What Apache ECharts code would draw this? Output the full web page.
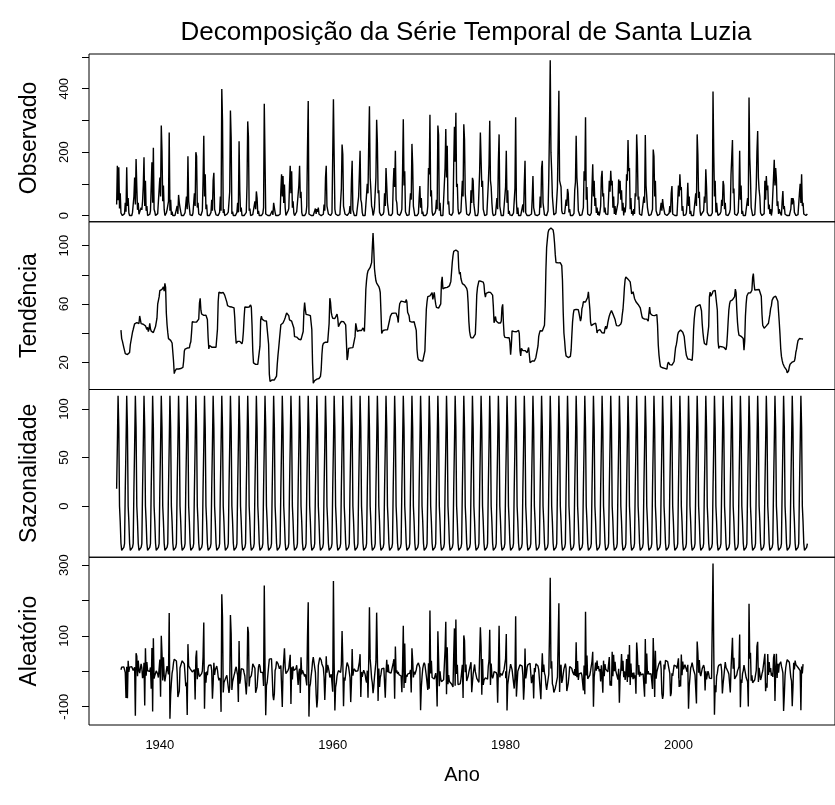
<!DOCTYPE html>
<html>
<head>
<meta charset="utf-8">
<script src="https://cdn.jsdelivr.net/npm/echarts@6/dist/echarts.min.js"></script>
<style>
  html, body { margin: 0; padding: 0; background: #ffffff; }
  #chart { width: 835px; height: 805px; }
</style>
</head>
<body>
<div id="chart"></div>
<script>
// Monthly rainfall series, Santa Luzia, January 1935 - December 2014 (one row per year, Jan..Dec)
const startYear = 1935;

const rain1935to1944 = [
  35, 157, 48, 152, 22, 70, 8, 2, 0, 4, 0, 6,
  40, 12, 152, 30, 55, 8, 0, 0, 0, 0, 9, 6,
  60, 120, 35, 178, 90, 18, 40, 4, 0, 0, 25, 18,
  45, 95, 184, 30, 110, 15, 30, 0, 0, 0, 4, 15,
  10, 168, 40, 214, 20, 12, 0, 0, 0, 6, 0, 10,
  120, 60, 284, 200, 45, 95, 20, 0, 0, 8, 18, 14,
  45, 262, 15, 50, 2, 12, 0, 0, 0, 0, 4, 6,
  30, 5, 65, 40, 25, 12, 0, 0, 0, 0, 6, 9,
  5, 60, 20, 187, 45, 25, 2, 0, 0, 0, 8, 8,
  70, 30, 200, 187, 25, 40, 5, 0, 0, 0, 4, 15
];
const rain1945to1954 = [
  110, 252, 60, 130, 20, 35, 0, 2, 0, 0, 5, 10,
  50, 15, 110, 135, 20, 18, 2, 0, 0, 0, 0, 10,
  60, 15, 399, 299, 8, 20, 0, 0, 0, 4, 0, 11,
  15, 75, 331, 245, 5, 12, 0, 0, 0, 0, 3, 10,
  40, 10, 234, 80, 12, 25, 0, 0, 0, 0, 2, 5,
  10, 95, 297, 248, 15, 22, 0, 0, 0, 3, 0, 6,
  45, 20, 76, 55, 5, 15, 0, 0, 0, 0, 5, 7,
  25, 353, 180, 5, 8, 0, 0, 0, 0, 0, 0, 5,
  15, 2, 40, 25, 10, 0, 0, 0, 0, 0, 0, 4,
  80, 130, 60, 125, 40, 98, 25, 0, 0, 5, 15, 22
];
const rain1955to1964 = [
  95, 157, 70, 140, 25, 45, 8, 0, 0, 0, 12, 12,
  15, 95, 157, 55, 75, 10, 0, 0, 0, 0, 5, 8,
  30, 214, 361, 5, 8, 0, 0, 0, 0, 0, 0, 6,
  22, 5, 20, 12, 25, 4, 10, 0, 0, 0, 6, 4,
  35, 15, 120, 157, 30, 35, 5, 0, 0, 0, 3, 8,
  10, 367, 187, 20, 5, 0, 2, 0, 0, 0, 3, 6,
  85, 224, 193, 30, 30, 5, 0, 0, 0, 0, 0, 9,
  30, 5, 110, 173, 18, 15, 0, 0, 0, 0, 4, 5,
  60, 130, 204, 50, 40, 10, 0, 0, 0, 0, 4, 6,
  100, 70, 227, 345, 120, 80, 30, 20, 0, 8, 25, 25
];
const rain1965to1974 = [
  120, 302, 230, 70, 80, 10, 12, 0, 0, 0, 4, 12,
  70, 30, 150, 155, 40, 45, 2, 0, 0, 0, 5, 7,
  95, 150, 90, 204, 50, 40, 5, 0, 0, 0, 4, 10,
  20, 140, 304, 95, 140, 12, 15, 0, 0, 0, 2, 4,
  70, 50, 226, 160, 30, 30, 0, 0, 0, 0, 3, 7,
  55, 93, 25, 55, 5, 12, 0, 0, 0, 0, 0, 7,
  30, 150, 130, 318, 60, 80, 12, 0, 0, 0, 8, 16,
  50, 20, 284, 254, 15, 40, 0, 0, 0, 0, 3, 6,
  150, 273, 120, 220, 35, 45, 5, 0, 0, 0, 6, 10,
  160, 280, 170, 324, 90, 100, 20, 4, 0, 0, 12, 16
];
const rain1975to1984 = [
  110, 60, 288, 240, 70, 75, 5, 0, 0, 0, 6, 10,
  80, 40, 119, 110, 35, 40, 0, 4, 0, 0, 10, 6,
  140, 262, 259, 90, 110, 20, 10, 0, 0, 0, 3, 6,
  100, 160, 299, 110, 90, 40, 8, 0, 0, 0, 3, 6,
  55, 20, 170, 256, 30, 25, 0, 0, 0, 0, 2, 6,
  90, 204, 40, 80, 5, 15, 2, 0, 0, 0, 0, 8,
  10, 85, 310, 50, 5, 25, 0, 0, 0, 0, 2, 5,
  35, 10, 100, 173, 8, 5, 0, 0, 0, 0, 0, 5,
  5, 55, 125, 25, 30, 2, 6, 0, 0, 0, 0, 4,
  60, 25, 150, 173, 40, 45, 2, 0, 0, 0, 6, 15
];
const rain1985to1994 = [
  120, 281, 490, 200, 140, 60, 30, 2, 0, 0, 8, 13,
  90, 234, 394, 110, 100, 90, 15, 6, 0, 0, 6, 11,
  50, 30, 84, 70, 10, 20, 0, 0, 0, 0, 5, 7,
  80, 105, 252, 120, 85, 15, 8, 0, 0, 0, 2, 5,
  25, 140, 110, 310, 50, 90, 5, 0, 0, 0, 6, 8,
  90, 162, 60, 110, 30, 55, 8, 25, 2, 12, 0, 10,
  30, 120, 141, 60, 70, 10, 25, 5, 0, 8, 3, 8,
  110, 75, 141, 95, 110, 25, 60, 5, 30, 2, 0, 7,
  40, 114, 70, 110, 50, 80, 15, 40, 0, 25, 10, 34,
  130, 110, 238, 140, 150, 20, 55, 5, 15, 0, 20, 5
];
const rain1995to2004 = [
  70, 60, 256, 190, 50, 60, 5, 10, 0, 0, 2, 5,
  60, 40, 254, 95, 100, 25, 10, 0, 0, 5, 3, 8,
  20, 208, 187, 60, 110, 15, 12, 0, 0, 0, 4, 8,
  40, 15, 52, 30, 35, 5, 8, 0, 0, 0, 0, 7,
  30, 10, 70, 93, 5, 4, 0, 0, 0, 0, 0, 4,
  95, 60, 130, 80, 90, 15, 30, 0, 0, 5, 2, 9,
  40, 103, 30, 60, 5, 15, 0, 0, 0, 0, 5, 6,
  70, 30, 256, 191, 55, 75, 15, 0, 0, 8, 5, 15,
  60, 40, 146, 90, 10, 15, 0, 0, 0, 0, 3, 8,
  391, 198, 60, 110, 10, 40, 12, 0, 0, 0, 6, 13
];
const rain2005to2014 = [
  50, 30, 109, 95, 20, 40, 2, 0, 0, 0, 5, 9,
  20, 130, 184, 238, 70, 85, 5, 8, 0, 0, 6, 10,
  70, 204, 50, 95, 5, 15, 0, 0, 0, 0, 0, 5,
  55, 30, 372, 184, 120, 25, 20, 0, 0, 0, 3, 7,
  90, 202, 267, 120, 80, 60, 8, 2, 0, 0, 5, 6,
  110, 50, 125, 80, 95, 20, 35, 5, 20, 0, 15, 9,
  120, 176, 95, 150, 115, 30, 45, 5, 20, 10, 14, 0,
  45, 77, 20, 30, 4, 10, 0, 0, 0, 0, 0, 6,
  20, 55, 35, 55, 45, 10, 15, 0, 5, 2, 3, 7,
  70, 100, 40, 130, 30, 40, 5, 8, 0, 0, 4, 5
];

// Axis ticks and labels of each panel
const yearTicks = [1940, 1960, 1980, 2000];
const observedTicks = [0, 100, 200, 300, 400, 500];
const observedLabels = [0, 200, 400];
const trendTicks = [20, 40, 60, 80, 100];
const trendLabels = [20, 60, 100];
const seasonalTicks = [0, 50, 100];
const seasonalLabels = [0, 50, 100];
const randomTicks = [-100, 0, 100, 200, 300];
const randomLabels = [-100, 100, 300];
const panelTitles = ['Observado', 'Tendência', 'Sazonalidade', 'Aleatório'];

// ---- classical additive decomposition (centred 2x12 moving average) ----
const observed = [].concat(rain1935to1944, rain1945to1954, rain1955to1964, rain1965to1974,
                           rain1975to1984, rain1985to1994, rain1995to2004, rain2005to2014);
const n = observed.length;
const time = observed.map((_, i) => startYear + i / 12);

const trend = observed.map((_, i) => {
  if (i < 6 || i > n - 7) return null;
  let s = 0.5 * observed[i - 6] + 0.5 * observed[i + 6];
  for (let k = -5; k <= 5; k++) s += observed[i + k];
  return s / 12;
});

const monthSum = new Array(12).fill(0), monthCount = new Array(12).fill(0);
trend.forEach((t, i) => {
  if (t !== null) { monthSum[i % 12] += observed[i] - t; monthCount[i % 12]++; }
});
let figure = monthSum.map((s, m) => s / monthCount[m]);
const figMean = figure.reduce((a, b) => a + b, 0) / 12;
figure = figure.map(v => v - figMean);
const seasonal = observed.map((_, i) => figure[i % 12]);
const random = observed.map((v, i) => trend[i] === null ? null : v - trend[i] - seasonal[i]);

const components = [observed, trend, seasonal, random];
const tickSets = [observedTicks, trendTicks, seasonalTicks, randomTicks];
const labelSets = [observedLabels, trendLabels, seasonalLabels, randomLabels];

// axis range: data range extended by 4% on each side
function paddedRange(vals) {
  const v = vals.filter(x => x !== null);
  const lo = Math.min(...v), hi = Math.max(...v), p = (hi - lo) * 0.04;
  return [lo - p, hi + p];
}
const xRange = paddedRange([time[0], time[n - 1]]);

const frameLeft = 89, frameWidth = 754, frameTop = 54, frameBottom = 725;
const panelH = (frameBottom - frameTop) / 4;
const font = 'Liberation Sans, Arial, sans-serif';

const grids = [], xAxes = [], yAxes = [], series = [];
components.forEach((comp, k) => {
  const yr = paddedRange(comp);
  grids.push({
    left: frameLeft, width: frameWidth, top: frameTop + k * panelH, height: panelH,
    show: true, borderColor: '#000', borderWidth: 1, backgroundColor: 'transparent'
  });
  const last = k === 3;
  xAxes.push({
    gridIndex: k, type: 'value', min: xRange[0], max: xRange[1],
    show: last,
    axisLine: { show: false },
    splitLine: { show: false },
    axisTick: { show: last, length: 7, customValues: yearTicks, lineStyle: { color: '#000' } },
    axisLabel: {
      show: last, customValues: yearTicks, formatter: v => String(v),
      color: '#000', fontSize: 13, fontFamily: font, margin: 14
    },
    name: last ? 'Ano' : '', nameLocation: 'middle', nameGap: 40,
    nameTextStyle: { color: '#000', fontSize: 20, fontFamily: font }
  });
  yAxes.push({
    gridIndex: k, type: 'value', min: yr[0], max: yr[1],
    axisLine: { show: false },
    splitLine: { show: false },
    axisTick: { show: true, length: 7, customValues: tickSets[k], lineStyle: { color: '#000' } },
    axisLabel: {
      customValues: labelSets[k], formatter: v => String(v), rotate: 90,
      color: '#000', fontSize: 13, fontFamily: font, margin: 18
    },
    name: panelTitles[k], nameLocation: 'middle', nameRotate: 90, nameGap: 48,
    nameTextStyle: { color: '#000', fontSize: 23, fontFamily: font }
  });
  const pts = [];
  comp.forEach((v, i) => { if (v !== null) pts.push([time[i], v]); });
  series.push({
    type: 'line', xAxisIndex: k, yAxisIndex: k, data: pts,
    showSymbol: false, symbol: 'none', smooth: false,
    lineStyle: { color: '#000', width: 1.4 }, silent: true
  });
});

const chart = echarts.init(document.getElementById('chart'), null, { renderer: 'canvas' });
chart.setOption({
  animation: false,
  backgroundColor: '#fff',
  title: {
    text: 'Decomposição da Série Temporal de Santa Luzia',
    left: 461, top: 15, textAlign: 'center',
    textStyle: { color: '#000', fontSize: 26, fontWeight: 'normal', fontFamily: font }
  },
  grid: grids, xAxis: xAxes, yAxis: yAxes, series: series
});
</script>
</body>
</html>
